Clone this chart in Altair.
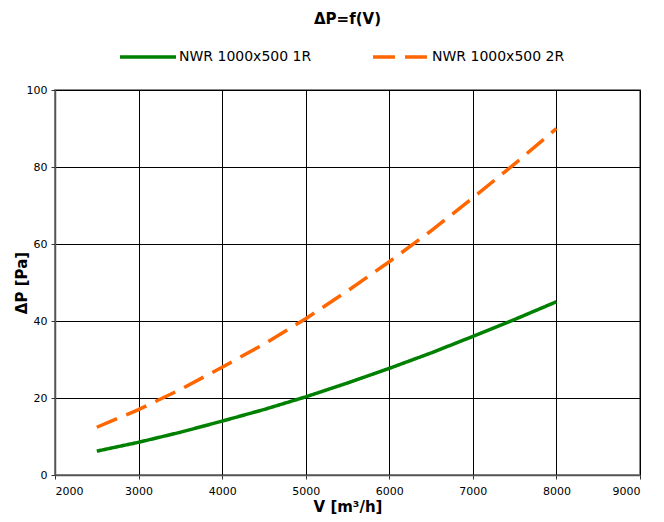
import altair as alt
import pandas as pd

V = [2500, 3000, 3500, 4000, 4500, 5000, 5500, 6000, 6500, 7000, 7500, 8000]
dp_1r = [6.2, 8.5, 11.1, 14.0, 17.0, 20.3, 23.9, 27.7, 31.7, 36.0, 40.4, 45.0]
dp_2r = [12.4, 17.0, 22.2, 28.0, 34.0, 40.6, 47.8, 55.4, 63.4, 72.0, 80.8, 90.0]
series = ["NWR 1000x500 1R", "NWR 1000x500 2R"]
colors = ["#008000", "#ff6600"]
dashes = [[1, 0], [22, 10]]

rows = []
for v, a, b in zip(V, dp_1r, dp_2r):
    rows.append({"V": v, "dP": a, "s": series[0]})
    rows.append({"V": v, "dP": b, "s": series[1]})
df = pd.DataFrame(rows)

font = "DejaVu Sans"

chart = alt.Chart(df).mark_line(strokeWidth=3.5, clip=True).encode(
    x=alt.X("V:Q", scale=alt.Scale(domain=[2000, 9000], nice=False),
            axis=alt.Axis(values=list(range(2000, 9001, 1000)), title="V [m³/h]",
                          format="d")),
    y=alt.Y("dP:Q", scale=alt.Scale(domain=[0, 100], nice=False),
            axis=alt.Axis(values=list(range(0, 101, 20)), title="ΔP [Pa]",
                          titleX=-34, titleBaseline="middle")),
    color=alt.Color("s:N", scale=alt.Scale(domain=series, range=colors),
                    legend=alt.Legend(title=None)),
    strokeDash=alt.StrokeDash("s:N", scale=alt.Scale(domain=series, range=dashes),
                              legend=alt.Legend(title=None)),
).properties(
    width=585, height=385,
    title=alt.TitleParams("ΔP=f(V)", font=font, fontSize=15, fontWeight="bold",
                          anchor="middle", offset=0, color="#000"),
    autosize=alt.AutoSizeParams(type="none"),
    padding={"left": 47, "top": 82, "right": 16, "bottom": 40},
).configure_view(
    stroke="#888888", strokeWidth=2
).configure_axis(
    grid=True, gridColor="#000000", gridWidth=1, gridOpacity=1,
    domainColor="#555555", domainWidth=1.5,
    tickColor="#333333", tickSize=4,
    labelFont=font, labelFontSize=11, labelColor="#000",
    titleFont=font, titleFontSize=15, titleFontWeight="bold", titleColor="#000",
).configure_axisX(
    labelPadding=6, titlePadding=3,
).configure_axisY(
    labelPadding=4,
).configure_legend(
    orient="none", legendX=63, legendY=-63, direction="horizontal",
    symbolType="stroke", symbolSize=3136, symbolStrokeWidth=3.5,
    labelFont=font, labelFontSize=14, labelColor="#000",
    columnPadding=54, labelOffset=1,
)

chart.save("out.html", embed_options={"renderer": "svg", "actions": False})
